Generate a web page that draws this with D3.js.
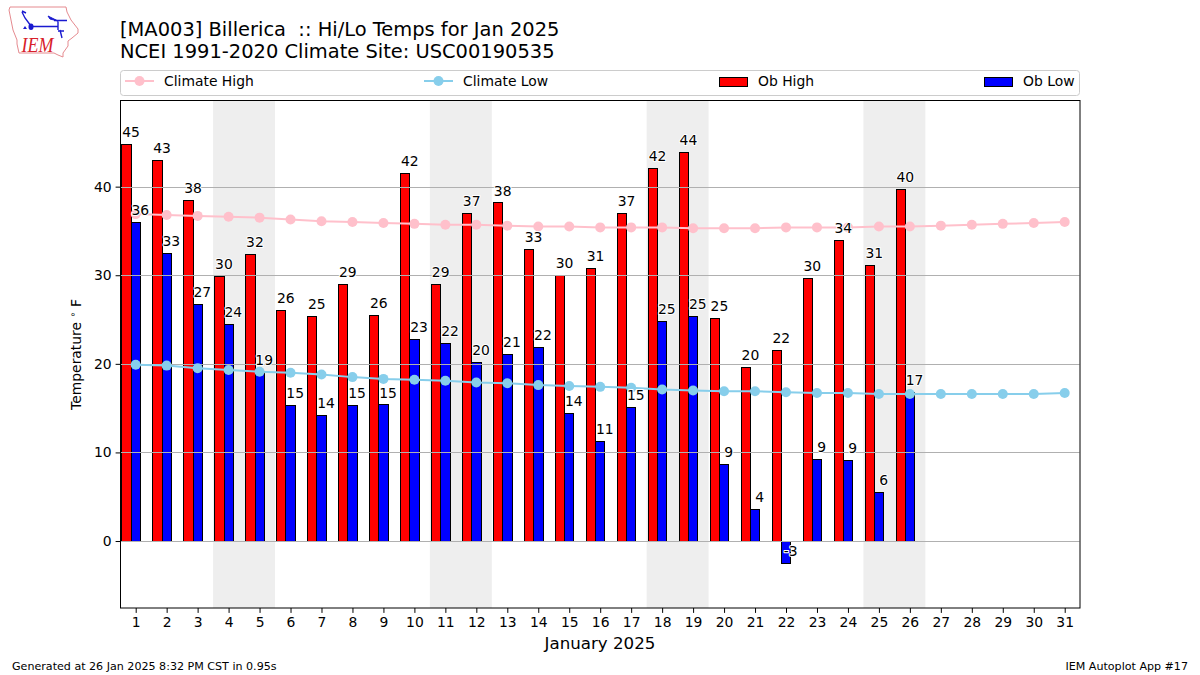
<!DOCTYPE html>
<html><head><meta charset="utf-8">
<script src="https://cdn.jsdelivr.net/npm/d3@7"></script>
<style>html,body{margin:0;background:#fff}svg{display:block}text{font-family:"DejaVu Sans",sans-serif;fill:#000;white-space:pre}</style>
</head><body><svg id="c" width="1200" height="675"></svg>
<script>
const days = d3.range(1, 32);
const xTickLabels = days.map(String);
const yTicks = [0, 10, 20, 30, 40];
const obHigh = [44.8,43.0,38.5,29.9,32.4,26.1,25.4,29.0,25.5,41.5,29.0,37.0,38.2,33.0,30.0,30.8,37.0,42.1,43.9,25.2,19.6,21.6,29.7,34.0,31.1,39.7];
const obLow = [36.0,32.5,26.7,24.5,19.1,15.3,14.2,15.3,15.4,22.8,22.3,20.2,21.1,21.9,14.4,11.3,15.1,24.8,25.4,8.7,3.6,-2.5,9.3,9.1,5.5,16.8];
const obHighLabels = [45,43,38,30,32,26,25,29,26,42,29,37,38,33,30,31,37,42,44,25,20,22,30,34,31,40];
const obLowLabels = [36,33,27,24,19,15,14,15,15,23,22,20,21,22,14,11,15,25,25,9,4,-3,9,9,6,17];
const climateHigh = [36.9,36.8,36.7,36.6,36.5,36.3,36.1,36.0,35.9,35.8,35.7,35.7,35.6,35.5,35.5,35.4,35.4,35.4,35.3,35.3,35.3,35.4,35.4,35.4,35.5,35.5,35.6,35.7,35.8,35.9,36.0];
const climateLow = [19.9,19.8,19.5,19.3,19.1,19.0,18.8,18.5,18.3,18.2,18.1,17.9,17.8,17.6,17.5,17.4,17.3,17.1,17.0,16.9,16.9,16.8,16.7,16.7,16.6,16.6,16.6,16.6,16.6,16.6,16.7];
const weekendBands = [[3.5,5.5],[10.5,12.5],[17.5,19.5],[24.5,26.5]];
const titleLines = ["[MA003] Billerica  :: Hi/Lo Temps for Jan 2025","NCEI 1991-2020 Climate Site: USC00190535"];
const legendEntries = ["Climate High","Climate Low","Ob High","Ob Low"];

const L=120.5,R=1079.5,T=100,B=608;
const x=d3.scaleLinear().domain([0.516,31.484]).range([L+.2,R+.2]);
const y=d3.scaleLinear().domain([49.78,-7.56]).range([T,B]);
const svg=d3.select("#c");
const bw=0.3;

// logo
const logo=svg.append("g");
logo.append("path").attr("d","M10 7 L66 7 L67 12 L71 20 L78 29 L78 33 L72 38 L68 41 L68 46 L63 53 L63 57 L58 55 L54 53 L19 53 L17 44 L17 40 L13 30 L11 20 L9 10 Z")
 .attr("fill","#fff").attr("stroke","#e58a8f").attr("stroke-width",1);
logo.append("path").attr("d","M22 12 L25 18 L31 26 M31 26.5 L58 26.5 M58 21.5 L58 30 M54 20.5 L67 20.5 M60 30 L62 38 M22 11 L26 13 M58 31 L64 31").attr("fill","none").attr("stroke","#1a1ad0").attr("stroke-width",1.4);
logo.append("path").attr("d","M48 16 L58 21 L50 19 Z").attr("fill","#1a1ad0").attr("stroke","#1a1ad0");
logo.append("ellipse").attr("cx",31).attr("cy",26.7).attr("rx",2.5).attr("ry",3.2).attr("fill","#1a1ad0");
logo.append("path").attr("d","M23 29 L25 26 L27 29 Z").attr("fill","#1a1ad0");
logo.append("text").attr("x",21.5).attr("y",51.7).attr("font-size",22).attr("font-style","italic").attr("textLength",32).attr("lengthAdjust","spacingAndGlyphs").style("font-family","'Liberation Serif',serif").style("fill","#d8202a").text("IEM");

// title
titleLines.forEach((t,i)=>svg.append("text").attr("x",120).attr("y",36+i*22).attr("font-size",19.46).text(t));

// legend
svg.append("rect").attr("x",120.5).attr("y",70.5).attr("width",959).attr("height",25).attr("rx",3).attr("fill","#fff").attr("stroke","#ccc");
const lg=[[125,164,"pink"],[424,463,"skyblue"]];
lg.forEach((d,i)=>{svg.append("line").attr("x1",d[0]).attr("x2",d[0]+29).attr("y1",81).attr("y2",81).attr("stroke",d[2]).attr("stroke-width",2);
 svg.append("circle").attr("cx",d[0]+14.5).attr("cy",81).attr("r",5).attr("fill",d[2]);
 svg.append("text").attr("x",d[1]).attr("y",86).attr("font-size",13.9).text(legendEntries[i]);});
[[719.5,758,"red"],[984.5,1023,"blue"]].forEach((d,i)=>{svg.append("rect").attr("x",d[0]).attr("y",77.5).attr("width",28).attr("height",9).attr("fill",d[2]).attr("stroke","#000").attr("stroke-width",1);
 svg.append("text").attr("x",d[1]).attr("y",86).attr("font-size",13.9).text(legendEntries[i+2]);});

// bands
svg.selectAll(".band").data(weekendBands).join("rect").attr("x",d=>x(d[0])).attr("width",d=>x(d[1])-x(d[0])).attr("y",T).attr("height",B-T).attr("fill","#eeeeee");

// bars
const barY=v=>Math.min(y(v),y(0)), barH=v=>Math.abs(y(v)-y(0));
const barG=svg.append("g").attr("transform","translate(0.1,0.4)").attr("shape-rendering","crispEdges").attr("stroke","#000").attr("stroke-width",1);
barG.selectAll(".hi").data(obHigh).join("rect").attr("class","hi").attr("x",(d,i)=>x(days[i]-0.45)).attr("width",x(bw)-x(0)).attr("y",barY).attr("height",barH).attr("fill","red");
barG.selectAll(".lo").data(obLow).join("rect").attr("class","lo").attr("x",(d,i)=>x(days[i]-0.15)).attr("width",x(bw)-x(0)).attr("y",barY).attr("height",barH).attr("fill","blue");

// grid
svg.selectAll(".g").data(yTicks).join("line").attr("x1",L).attr("x2",R).attr("y1",d=>Math.round(y(d))+.5).attr("y2",d=>Math.round(y(d))+.5).attr("stroke","#b0b0b0").attr("stroke-width",1);

// climate lines
[[climateHigh,"pink"],[climateLow,"skyblue"]].forEach(([s,c])=>{
 svg.append("path").attr("d",d3.line().x((d,i)=>x(days[i])).y(d=>y(d))(s)).attr("fill","none").attr("stroke",c).attr("stroke-width",2);
 svg.selectAll(null).data(s).join("circle").attr("cx",(d,i)=>x(days[i])).attr("cy",d=>y(d)).attr("r",5).attr("fill",c);
});

// labels
function labels(vals,lab,off){
 svg.selectAll(null).data(vals).join("text").attr("x",(d,i)=>x(days[i]+off)).attr("y",d=>y(d)-7).attr("text-anchor","middle").attr("font-size",13.9)
  .attr("stroke","#fff").attr("stroke-width",2).attr("paint-order","stroke").attr("stroke-linejoin","round").text((d,i)=>lab[i]);
}
labels(obHigh,obHighLabels,-0.15);
labels(obLow,obLowLabels,0.15);

// frame and axes
svg.append("rect").attr("x",L).attr("y",T+.5).attr("width",R-L+.5).attr("height",B-T-.5).attr("fill","none").attr("stroke","#000").attr("stroke-width",1);
const ax=svg.append("g").attr("transform",`translate(0,${B})`).call(d3.axisBottom(x).tickValues(days).tickFormat((d,i)=>xTickLabels[i]).tickSize(4.9).tickPadding(4));
ax.select(".domain").remove();
const ay=svg.append("g").attr("transform",`translate(${L},0)`).call(d3.axisLeft(y).tickValues(yTicks).tickSize(4.9).tickPadding(4));
ay.select(".domain").remove();
svg.selectAll(".tick text").attr("font-size",13.9).style("font-family","'DejaVu Sans'");
svg.selectAll(".tick line").attr("stroke","#000");
svg.append("text").attr("x",600).attr("y",649).attr("text-anchor","middle").attr("font-size",16.67).text("January 2025");
const yl=svg.append("text").attr("transform","translate(81,354.5) rotate(-90)").attr("text-anchor","middle").attr("font-size",13.9);
yl.append("tspan").text("Temperature ");
yl.append("tspan").attr("font-size",9.7).attr("dy",-5).text("\u2218");
yl.append("tspan").attr("dy",5).text(" F");

// footer
svg.append("text").attr("x",12).attr("y",670).attr("font-size",11.1).text("Generated at 26 Jan 2025 8:32 PM CST in 0.95s");
svg.append("text").attr("x",1188).attr("y",670).attr("text-anchor","end").attr("font-size",11.1).text("IEM Autoplot App #17");
</script></body></html>
